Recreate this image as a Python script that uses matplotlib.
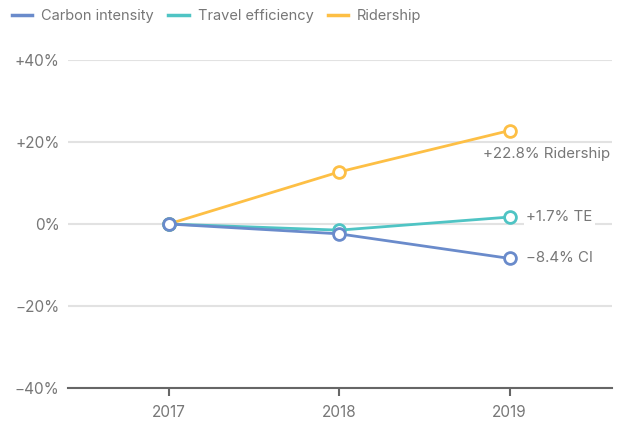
import matplotlib.pyplot as plt
from matplotlib.lines import Line2D

years = [2017, 2018, 2019]
carbon_intensity = [0.0, -2.4, -8.4]
travel_efficiency = [0.0, -1.5, 1.7]
ridership = [0.0, 12.7, 22.8]
y_ticks = [-40, -20, 0, 20, 40]
y_tick_labels = ["\u221240%", "\u221220%", "0%", "+20%", "+40%"]

c_ci = "#6a8bcb"
c_te = "#4fc4c4"
c_rd = "#fdbf45"
grey = "#777777"

plt.rcParams["font.family"] = ["Inter", "DejaVu Sans"]

fig = plt.figure(figsize=(6.2, 4.26), dpi=100)
ax = fig.add_axes([68 / 620, 1 - 388 / 426, 544 / 620, 328 / 426])

for vals, col in [(ridership, c_rd), (travel_efficiency, c_te), (carbon_intensity, c_ci)]:
    ax.plot(years, vals, color=col, lw=2, marker="o", ms=8.5,
            mfc="white", mec=col, mew=2, zorder=3, clip_on=False)

ax.set_xlim(2016.41, 2019.6)
ax.set_ylim(-40, 40)
ax.set_xticks(years)
ax.set_xticklabels([str(y) for y in years])
ax.set_yticks(y_ticks)
ax.set_yticklabels(y_tick_labels)
ax.grid(axis="y", color="#e2e2e2", lw=1.5, zorder=0)
ax.set_axisbelow(True)

for s in ["top", "right", "left"]:
    ax.spines[s].set_visible(False)
ax.spines["bottom"].set_color("#666666")
ax.spines["bottom"].set_linewidth(1.5)
ax.spines["bottom"].set_zorder(4)
ax.tick_params(axis="y", length=0, pad=6, labelsize=11, labelcolor=grey)
ax.tick_params(axis="x", length=6, width=1.5, color="#666666", pad=6,
               labelsize=11, labelcolor=grey)

lab_kw = dict(fontsize=10.8, color=grey, va="center", zorder=5)
ax.annotate("+22.8% Ridership", (years[-1], ridership[-1]), xytext=(72, -17),
            textcoords="offset points", ha="right", **lab_kw)
ax.annotate("+1.7% TE", (years[-1], travel_efficiency[-1]), xytext=(12, 0),
            textcoords="offset points", ha="left",
            bbox=dict(fc="white", ec="none", pad=1.5), **lab_kw)
ax.annotate("\u22128.4% CI", (years[-1], carbon_intensity[-1]), xytext=(12, 0),
            textcoords="offset points", ha="left",
            bbox=dict(fc="white", ec="none", pad=1.5), **lab_kw)

handles = [Line2D([], [], color=c, lw=2.5) for c in (c_ci, c_te, c_rd)]
fig.legend(handles, ["Carbon intensity", "Travel efficiency", "Ridership"],
           loc="upper left", bbox_to_anchor=(0.005, 1.0), ncol=3, frameon=False,
           fontsize=10.5, labelcolor=grey, handlelength=1.4, handletextpad=0.6,
           columnspacing=1.0, borderaxespad=0.2)

fig.savefig("out.png", dpi=100)
